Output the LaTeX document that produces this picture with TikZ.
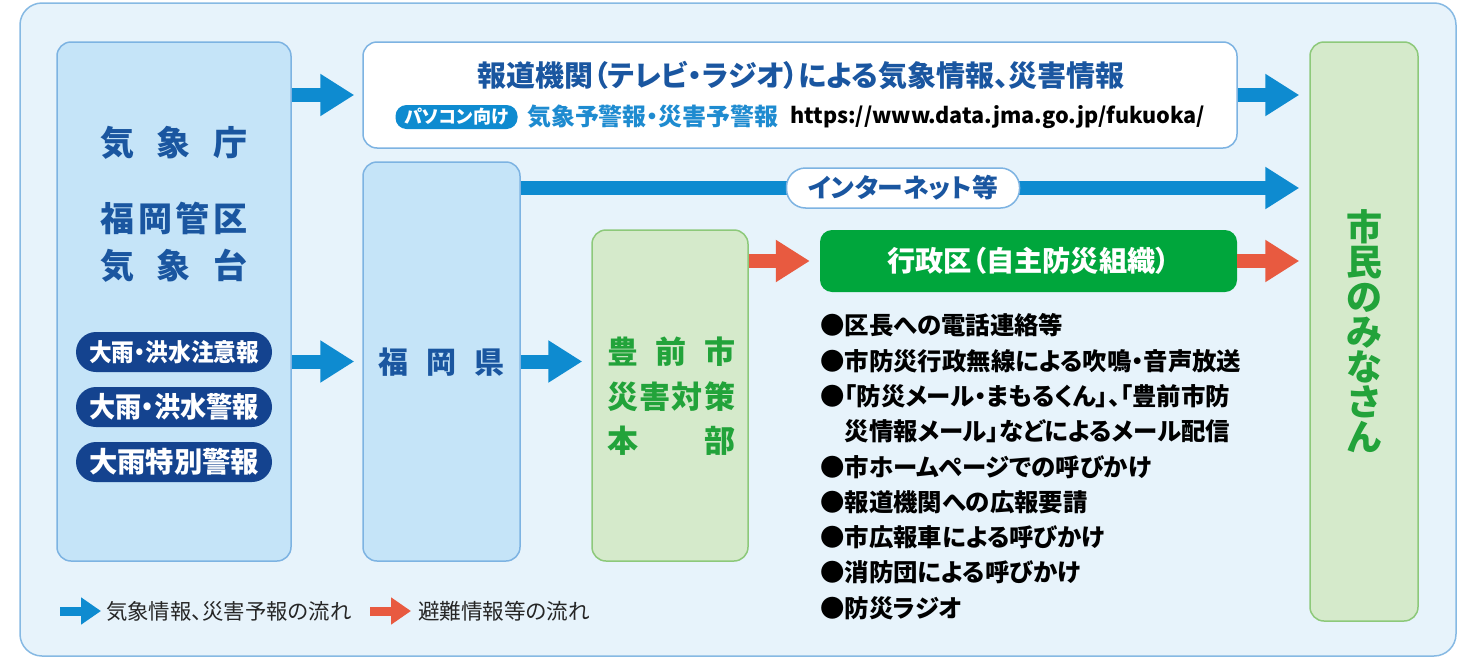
\documentclass[tikz,border=0pt]{standalone}
\usepackage{fontspec}
\setmainfont{Noto Sans CJK JP}[RawFeature=+palt]
\usetikzlibrary{arrows.meta}
\definecolor{bgblue}{HTML}{E7F3FB}
\definecolor{bgborder}{HTML}{86B9E3}
\definecolor{boxblue}{HTML}{C5E4F8}
\definecolor{boxblueb}{HTML}{7DB3E2}
\definecolor{darkblue}{HTML}{1A56A0}
\definecolor{navy}{HTML}{14438F}
\definecolor{arrblue}{HTML}{0E8BD0}
\definecolor{arrred}{HTML}{E85A40}
\definecolor{boxgreen}{HTML}{D5EACB}
\definecolor{boxgreenb}{HTML}{8DC97A}
\definecolor{txtgreen}{HTML}{22A33A}
\definecolor{solidgreen}{HTML}{00A63C}
\definecolor{subblue}{HTML}{1E8BD0}
\newcommand{\fs}[1]{\fontsize{#1pt}{#1pt}\selectfont\bfseries}
\newcommand{\fitw}[2]{\resizebox{#1pt}{!}{\fs{30}#2}}
\tikzset{
  bluebox/.style={draw=boxblueb, fill=boxblue, line width=1.5pt, rounded corners=14pt, inner sep=0pt},
  whitebox/.style={draw=boxblueb, fill=white, line width=1.5pt, rounded corners=14pt, inner sep=0pt},
  greenbox/.style={draw=boxgreenb, fill=boxgreen, line width=1.5pt, rounded corners=14pt, inner sep=0pt},
  solidbox/.style={fill=solidgreen, rounded corners=12pt, inner sep=0pt, text=white},
  pill/.style={fill=navy, rounded corners=20pt, inner sep=0pt, minimum width=196pt, minimum height=40pt, text=white},
  barrow/.style={draw=arrblue, line width=14pt, -{Triangle[length=34pt,width=40pt]}},
  rarrow/.style={draw=arrred, line width=14pt, -{Triangle[length=34pt,width=40pt]}},
  lbarrow/.style={draw=arrblue, line width=9pt, -{Triangle[length=20pt,width=26pt]}},
  lrarrow/.style={draw=arrred, line width=9pt, -{Triangle[length=20pt,width=26pt]}},
  txt/.style={inner sep=0pt}
}
\begin{document}
\begin{tikzpicture}[x=1pt,y=-1pt]
\useasboundingbox (0,0) rectangle (1465,659);
% outer frame
\node[draw=bgborder, fill=bgblue, line width=1.5pt, rounded corners=22pt, minimum width=1436pt, minimum height=653pt, inner sep=0pt] (frame) at (738,329.5) {};
% boxes
\node[bluebox, minimum width=234pt, minimum height=519pt] (kisho) at (174,301.5) {};
\node[whitebox, minimum width=874pt, minimum height=106pt] (top) at (800,95) {};
\node[bluebox, minimum width=157pt, minimum height=399pt] (ken) at (441.5,361.5) {};
\node[greenbox, minimum width=156pt, minimum height=331pt] (honbu) at (670,395.5) {};
\node[solidbox, minimum width=417pt, minimum height=62pt] (gyosei) at (1028.5,261) {\fitw{282}{行政区（自主防災組織）}};
\node[greenbox, minimum width=108pt, minimum height=579pt] (shimin) at (1364,331.5) {};
% left box text
\node[txt, text=darkblue] (k1) at (174,143) {\fs{34}\makebox[147pt][s]{気\hfill 象\hfill 庁}};
\node[txt, text=darkblue] (k2) at (174,218) {\fs{34}\makebox[147pt][s]{福\hfill 岡\hfill 管\hfill 区}};
\node[txt, text=darkblue] (k3) at (174,266) {\fs{34}\makebox[147pt][s]{気\hfill 象\hfill 台}};
\node[pill] (p1) at (174,352) {\scalebox{1}[1.08]{\fitw{170}{大雨・洪水注意報}}};
\node[pill] (p2) at (174,407) {\scalebox{1}[1.08]{\fitw{170}{大雨・洪水警報}}};
\node[pill] (p3) at (174,462) {\fitw{170}{大雨特別警報}};
% top box text
\node[txt, text=darkblue] (t1) at (801,76) {\fitw{647}{報道機関（テレビ・ラジオ）による気象情報、災害情報}};
\node[fill=arrblue, rounded corners=11pt, inner sep=0pt, minimum width=122pt, minimum height=24pt, text=white] (pc) at (456.5,117) {\fitw{104}{パソコン向け}};
\node[txt, text=subblue, anchor=west] (t2) at (527,117) {\fitw{251}{気象予警報・災害予警報}};
\node[txt, text=black, anchor=west] (url) at (790,117) {\resizebox{415pt}{!}{\fs{22}https://www.data.jma.go.jp/fukuoka/}};
% ken text
\node[txt, text=darkblue] (kt) at (441.5,362) {\fs{30}\makebox[127pt][s]{福\hfill 岡\hfill 県}};
% honbu text
\node[txt, text=txtgreen] (h1) at (671,352) {\fs{31}\makebox[128pt][s]{豊\hfill 前\hfill 市}};
\node[txt, text=txtgreen] (h2) at (671,397) {\fs{31}\makebox[128pt][s]{災\hfill 害\hfill 対\hfill 策}};
\node[txt, text=txtgreen] (h3) at (671,441) {\fs{31}\makebox[128pt][s]{本\hfill 部}};
% shimin text
\node[txt, text=txtgreen, align=center, font=\fs{36}] (st) at (1364,331) {市\\[-1pt]民\\[-1pt]の\\[-1pt]み\\[-1pt]な\\[-1pt]さ\\[-1pt]ん};
% arrows
\draw[barrow, shorten >=8pt] (kisho.east |- top.west) -- (top.west);
\draw[barrow, shorten >=10pt] (top.east) -- (top.east -| shimin.west);
\draw[barrow, shorten >=8pt] (kisho.east |- ken.west) -- (ken.west);
\draw[barrow, shorten >=9pt] (ken.east) -- (ken.east -| honbu.west);
\coordinate (inet) at (903,188);
\draw[barrow, shorten >=10pt] (ken.east |- inet) -- (inet -| shimin.west);
\node[draw=boxblueb, fill=white, line width=1.5pt, rounded corners=19pt, minimum width=233pt, minimum height=40pt, inner sep=0pt, text=darkblue] (inetlabel) at (inet) {\fitw{190}{インターネット等}};
\draw[rarrow, shorten >=10pt] (honbu.east |- gyosei.west) -- (gyosei.west);
\draw[rarrow, shorten >=10pt] (gyosei.east) -- (gyosei.east -| shimin.west);
% bullet list
\node[txt, anchor=north west, align=left, text=black, font=\fs{24.4}] (list) at (820,313.5) {%
●区長への電話連絡等\\[10.9pt]
●市防災行政無線による吹鳴・音声放送\\[10.9pt]
●「防災メール・まもるくん」、「豊前市防\\[10.9pt]
\hphantom{●}災情報メール」などによるメール配信\\[10.9pt]
●市ホームページでの呼びかけ\\[10.9pt]
●報道機関への広報要請\\[10.9pt]
●市広報車による呼びかけ\\[10.9pt]
●消防団による呼びかけ\\[10.9pt]
●防災ラジオ};
% legend
\coordinate (lb1) at (60,611);
\coordinate (lb2) at (101,611);
\coordinate (lr1) at (370,611);
\coordinate (lr2) at (411,611);
\draw[lbarrow] (lb1) -- (lb2);
\node[txt, anchor=west, text=black!85] (lt1) at (106,611) {\resizebox{245pt}{!}{\fontsize{30pt}{30pt}\selectfont 気象情報、災害予報の流れ}};
\draw[lrarrow] (lr1) -- (lr2);
\node[txt, anchor=west, text=black!85] (lt2) at (418,611) {\resizebox{172pt}{!}{\fontsize{30pt}{30pt}\selectfont 避難情報等の流れ}};
\end{tikzpicture}
\end{document}
